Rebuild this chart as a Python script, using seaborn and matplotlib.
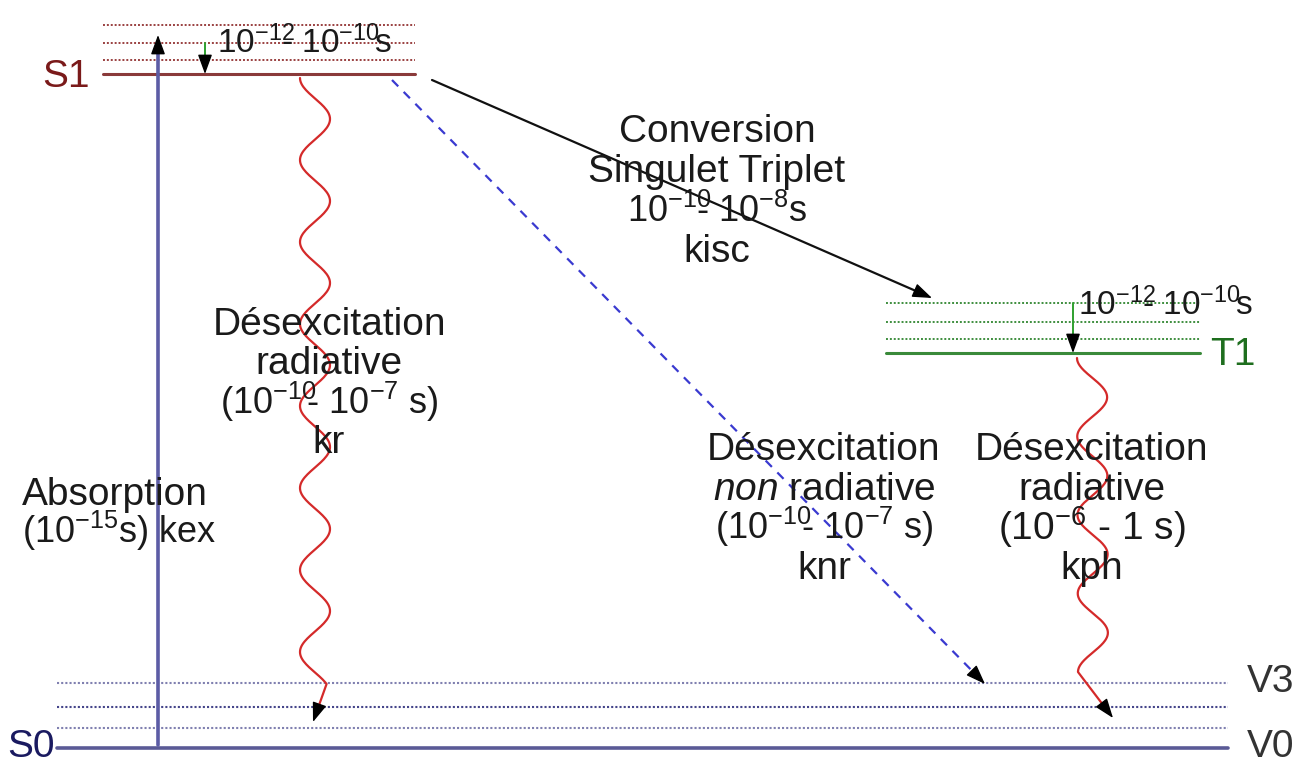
import numpy as np
import pandas as pd
import matplotlib.pyplot as plt
import seaborn as sns
from matplotlib.patches import FancyArrowPatch

# niveaux d'energie (coordonnees en pixels de l'image)
s1_span = [103, 415]
s1_level = 74
s1_vib = [25, 43, 60]
t1_span = [886, 1200]
t1_level = 353
t1_vib = [303, 322, 339]
s0_span = [57, 1228]
s0_level = 748
s0_vib = [683, 707, 728]

# transitions : depart -> arrivee
absorption = [(158, 745), (158, 35)]
s1_relax = [(205, 43), (205, 74)]
t1_relax = [(1073, 303), (1073, 353)]
isc = [(432, 80), (932, 298)]
knr = [(392, 80), (985, 684)]
kr = [(300, 78), (313, 722)]
kph = [(1077, 358), (1113, 718)]

# textes (les exposants se chevauchent comme sur l'original)
NEG = r'\!\!\!\!'
kr_lines = ['Désexcitation', 'radiative', r'($10^{-10}' + NEG + r'$ - $10^{-7}$ s)', 'kr']
isc_lines = ['Conversion', 'Singulet Triplet', r'$10^{-10}' + NEG + r'\!$ - $10^{-8}$s', 'kisc']
knr_lines = ['Désexcitation', r'$\mathit{non}$ radiative', r'($10^{-10}' + NEG + r'$ - $10^{-7}$ s)', 'knr']
kph_lines = ['Désexcitation', 'radiative', r'($10^{-6}$ - 1 s)', 'kph']
abs_lines = ['Absorption', r'($10^{-15}$s) kex']
vib_time = r'$10^{-12}' + NEG + r'\!$ - $10^{-10}\!$s'

sns.set_theme(style='white')
plt.rcParams['font.family'] = ['Liberation Sans', 'DejaVu Sans']
plt.rcParams['mathtext.fontset'] = 'custom'
plt.rcParams['mathtext.rm'] = 'Liberation Sans'
plt.rcParams['mathtext.it'] = 'Liberation Sans:italic'
plt.rcParams['mathtext.default'] = 'regular'

fig = plt.figure(figsize=(13.08, 7.65), dpi=100)
ax = fig.add_axes([0, 0, 1, 1])

dot = (0, (1, 1))


def level(span, y, color, ls='-', lw=2.2):
    sns.lineplot(x=span, y=[y, y], color=color, linestyle=ls, lw=lw, ax=ax)


def head(p0, p1, size=20):
    # pointe noire au bout de la fleche
    d = np.subtract(p1, p0).astype(float)
    d = d / np.hypot(*d)
    start = np.array(p1) - d * 14
    ax.add_patch(FancyArrowPatch(start, p1, arrowstyle='-|>,head_length=0.6,head_width=0.22',
                                 mutation_scale=size, color='black', lw=1,
                                 shrinkA=0, shrinkB=0, zorder=5))


def arrow(p0, p1, color, ls='-', lw=1.6):
    d = np.subtract(p1, p0).astype(float)
    d = d / np.hypot(*d)
    end = np.array(p1) - d * 10
    sns.lineplot(x=[p0[0], end[0]], y=[p0[1], end[1]], color=color, linestyle=ls,
                 lw=lw, sort=False, estimator=None, ax=ax)
    head(p0, p1)


def wavy(p0, p1, stop, period, amp=15, xc_end=None):
    # ligne ondulee (desexcitation radiative)
    y = np.linspace(p0[1], stop, 400)
    xc0 = p0[0] + amp
    xc1 = xc_end if xc_end is not None else xc0
    xc = xc0 + (xc1 - xc0) * (y - p0[1]) / (stop - p0[1])
    x = xc - amp * np.cos(2 * np.pi * (y - p0[1]) / period)
    d = np.subtract(p1, (x[-1], y[-1]))
    d = d / np.hypot(*d)
    end = np.array(p1) - d * 10
    xs = np.append(x, end[0])
    ys = np.append(y, end[1])
    sns.lineplot(x=xs, y=ys, color='#d42a2a', lw=1.6, sort=False, estimator=None, ax=ax)
    head((x[-1], y[-1]), p1)


# S1
for yv in s1_vib:
    level(s1_span, yv, '#9a4040', dot, 1.4)
level(s1_span, s1_level, '#8a3a3a')
# T1
for yv in t1_vib:
    level(t1_span, yv, '#3e8e3e', dot, 1.4)
level(t1_span, t1_level, '#3a8a3a')
# S0
for yv, c in zip(s0_vib, ['#8080b0', '#45458a', '#8080b0']):
    level(s0_span, yv, c, dot, 1.5)
level(s0_span, s0_level, '#5a5a96', lw=2.6)

# fleches
arrow(absorption[0], absorption[1], '#5c5ca5', lw=2.6)
arrow(s1_relax[0], s1_relax[1], '#2fa02f', lw=1.4)
arrow(t1_relax[0], t1_relax[1], '#2fa02f', lw=1.4)
arrow(isc[0], isc[1], '#111111', lw=1.6)
arrow(knr[0], knr[1], '#3a3ad0', ls=(0, (4, 3.5)), lw=1.6)
wavy(kr[0], kr[1], stop=684, period=82)
wavy(kph[0], kph[1], stop=672, period=78.5, xc_end=1093)

# etiquettes des niveaux
fs = 28
tfs = 26
ax.text(90, 87, 'S1', color='#7a1a1a', fontsize=fs, ha='right', va='baseline')
ax.text(7, 757, 'S0', color='#1a1a60', fontsize=fs, ha='left', va='baseline')
ax.text(1210, 365, 'T1', color='#1e6e1e', fontsize=fs, ha='left', va='baseline')
ax.text(1247, 692, 'V3', color='#333333', fontsize=fs, ha='left', va='baseline')
ax.text(1247, 757, 'V0', color='#333333', fontsize=fs, ha='left', va='baseline')

# textes des transitions
ax.text(217, 53, vib_time, color='#1a1a1a', fontsize=24, ha='left', va='baseline')
ax.text(1078, 315, vib_time, color='#1a1a1a', fontsize=24, ha='left', va='baseline')


def block(lines, x, y0, step=39.5, ha='center', sizes=None):
    for i, s in enumerate(lines):
        size = sizes[i] if sizes else fs
        ax.text(x, y0 + i * step, s, color='#1a1a1a', fontsize=size, ha=ha, va='baseline')


block(isc_lines, 717, 142, 40, sizes=[fs, fs, tfs, fs])
block(kr_lines, 329, 335, 39.3, sizes=[fs, fs, tfs, fs])
block(knr_lines, 824, 460, 39.7, sizes=[fs, fs, tfs, fs])
block(kph_lines, 1092, 460, 39.7)
block(abs_lines, 22, 505, 38, ha='left', sizes=[fs, tfs])

ax.set_xlim(0, 1308)
ax.set_ylim(765, 0)
ax.axis('off')
fig.savefig('out.png', dpi=100, facecolor='white')
